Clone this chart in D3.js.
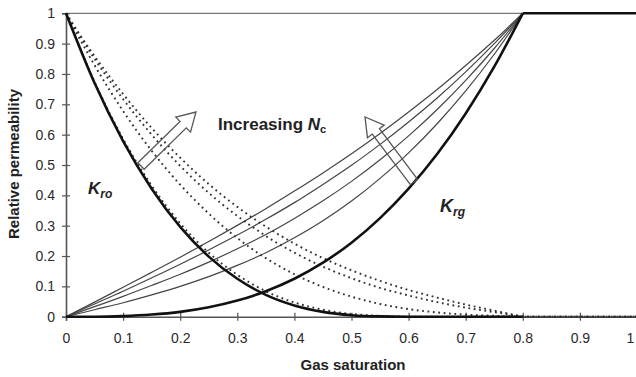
<!DOCTYPE html>
<html>
<head>
<meta charset="utf-8">
<script src="https://cdn.jsdelivr.net/npm/d3@7"></script>
<style>
  body { margin: 0; background: #fff; }
  text { font-family: "Liberation Sans", Arial, sans-serif; }
</style>
</head>
<body>
<div id="vizContainer"></div>
<script>
// gas saturation grid (curves end at 0.8, then flat to 1)
var sgGrid = [0, 0.05, 0.1, 0.15, 0.2, 0.25, 0.3, 0.35, 0.4, 0.45, 0.5, 0.55, 0.6, 0.65, 0.7, 0.75, 0.8];

// oil relative permeability, base curve (thick) and increasing Nc (dotted)
var kroBase = [1, 0.770, 0.579, 0.422, 0.296, 0.198, 0.125, 0.072, 0.037, 0.016, 0.005, 0.001, 0, 0, 0, 0, 0];
var kroNc1 = [1, 0.774, 0.586, 0.432, 0.308, 0.211, 0.138, 0.084, 0.047, 0.023, 0.009, 0.003, 0, 0, 0, 0, 0];
var kroNc2 = [1, 0.829, 0.678, 0.547, 0.435, 0.340, 0.259, 0.193, 0.140, 0.098, 0.066, 0.042, 0.025, 0.014, 0.007, 0.003, 0];
var kroNc3 = [1, 0.850, 0.717, 0.600, 0.497, 0.408, 0.332, 0.266, 0.211, 0.165, 0.127, 0.095, 0.070, 0.048, 0.030, 0.015, 0];
var kroNc4 = [1, 0.859, 0.734, 0.622, 0.524, 0.437, 0.362, 0.297, 0.241, 0.193, 0.153, 0.118, 0.088, 0.063, 0.040, 0.020, 0];

// gas relative permeability, base curve (thick) and increasing Nc (thin)
var krgBase = [0, 0.000, 0.002, 0.007, 0.016, 0.031, 0.053, 0.084, 0.125, 0.178, 0.244, 0.325, 0.422, 0.536, 0.670, 0.824, 1];
var krgNc1 = [0, 0.048, 0.097, 0.146, 0.196, 0.248, 0.301, 0.356, 0.414, 0.474, 0.537, 0.604, 0.675, 0.749, 0.828, 0.911, 1];
var krgNc2 = [0, 0.042, 0.084, 0.128, 0.173, 0.220, 0.269, 0.321, 0.376, 0.436, 0.499, 0.568, 0.642, 0.721, 0.807, 0.900, 1];
var krgNc3 = [0, 0.033, 0.067, 0.103, 0.140, 0.180, 0.224, 0.271, 0.324, 0.382, 0.446, 0.517, 0.596, 0.683, 0.779, 0.884, 1];
var krgNc4 = [0, 0.023, 0.046, 0.072, 0.100, 0.132, 0.169, 0.211, 0.260, 0.316, 0.381, 0.456, 0.540, 0.636, 0.744, 0.865, 1];

var xTicks = [0, 0.1, 0.2, 0.3, 0.4, 0.5, 0.6, 0.7, 0.8, 0.9, 1];
var yTicks = [0, 0.1, 0.2, 0.3, 0.4, 0.5, 0.6, 0.7, 0.8, 0.9, 1];

var width = 636, height = 377;

var svg = d3.select('#vizContainer').append('svg')
    .attr('width', width)
    .attr('height', height)
    .attr('viewBox', '0 0 ' + width + ' ' + height);

var x = d3.scaleLinear().domain([0, 1]).range([66, 637]);
var y = d3.scaleLinear().domain([0, 1]).range([316.7, 13.3]);

function fmt(d) {
    return (d === 0 || d === 1) ? String(d) : d.toFixed(1);
}

function toPoints(vals) {
    return vals.map(function(v, i) { return [sgGrid[i], v]; });
}

var curveLine = d3.line()
    .x(function(d) { return x(d[0]); })
    .y(function(d) { return y(d[1]); })
    .curve(d3.curveMonotoneX);

var straight = d3.line()
    .x(function(d) { return x(d[0]); })
    .y(function(d) { return y(d[1]); });

// top frame line
svg.append('line')
    .attr('x1', x(0)).attr('x2', width)
    .attr('y1', y(1)).attr('y2', y(1))
    .attr('stroke', '#777').attr('stroke-width', 1.3);

// axes
var yAxis = svg.append('g')
    .attr('transform', 'translate(' + x(0) + ',0)')
    .call(d3.axisLeft(y).tickValues(yTicks).tickFormat(fmt).tickSize(4).tickPadding(7));
yAxis.selectAll('.tick line').attr('x1', 4);

var xAxis = svg.append('g')
    .attr('transform', 'translate(0,' + y(0) + ')')
    .call(d3.axisBottom(x).tickValues(xTicks).tickFormat(fmt).tickSize(4).tickPadding(12));
xAxis.selectAll('.tick line').attr('y1', -4);
// last label sits at the right edge
xAxis.selectAll('.tick text').filter(function(d) { return d === 1; }).attr('dx', -7);

svg.selectAll('.domain').attr('stroke', '#555').attr('stroke-width', 1.6);
svg.selectAll('.tick line').attr('stroke', '#555').attr('stroke-width', 1.2);
svg.selectAll('.tick text')
    .attr('font-size', 14)
    .attr('font-family', '"Liberation Sans", Arial, sans-serif')
    .attr('fill', '#2a2a2a');

// thin gas curves
[krgNc1, krgNc2, krgNc3, krgNc4].forEach(function(vals) {
    svg.append('path')
        .attr('d', curveLine(toPoints(vals)))
        .attr('fill', 'none')
        .attr('stroke', '#444')
        .attr('stroke-width', 1.2);
});

// dotted oil curves
[kroNc1, kroNc2, kroNc3, kroNc4].forEach(function(vals) {
    svg.append('path')
        .attr('d', curveLine(toPoints(vals)) + straight([[0.8, 0], [1, 0]]).replace('M', 'L'))
        .attr('fill', 'none')
        .attr('stroke', '#333')
        .attr('stroke-width', 1.9)
        .attr('stroke-dasharray', '1.8,3.6');
});

// thick base curves
svg.append('path')
    .attr('d', curveLine(toPoints(kroBase)))
    .attr('fill', 'none')
    .attr('stroke', '#111')
    .attr('stroke-width', 2.6);

svg.append('path')
    .attr('d', curveLine(toPoints(krgBase)))
    .attr('fill', 'none')
    .attr('stroke', '#111')
    .attr('stroke-width', 2.6);

svg.append('path')
    .attr('d', straight([[0.8, 1], [1, 1]]))
    .attr('fill', 'none')
    .attr('stroke', '#111')
    .attr('stroke-width', 2.6);

// hollow arrow from (x0,y0) to tip (x1,y1)
function hollowArrow(x0, y0, x1, y1) {
    var dx = x1 - x0, dy = y1 - y0;
    var len = Math.sqrt(dx * dx + dy * dy);
    var ux = dx / len, uy = dy / len;
    var nx = -uy, ny = ux;
    var sw = 4.5, hw = 10.5, hl = 18;
    var bx = x1 - ux * hl, by = y1 - uy * hl;
    var pts = [
        [x0 + nx * sw, y0 + ny * sw],
        [bx + nx * sw, by + ny * sw],
        [bx + nx * hw, by + ny * hw],
        [x1, y1],
        [bx - nx * hw, by - ny * hw],
        [bx - nx * sw, by - ny * sw],
        [x0 - nx * sw, y0 - ny * sw]
    ];
    svg.append('path')
        .attr('d', 'M' + pts.map(function(p) { return p[0] + ',' + p[1]; }).join('L') + 'Z')
        .attr('fill', 'none')
        .attr('stroke', '#555')
        .attr('stroke-width', 1.3)
        .attr('stroke-linejoin', 'miter');
}

hollowArrow(141, 166, 196, 112);
hollowArrow(414, 182, 365, 117);

// labels
var kro = svg.append('text')
    .attr('x', 88).attr('y', 194)
    .attr('font-size', 17).attr('font-weight', 'bold').attr('font-style', 'italic')
    .attr('fill', '#222');
kro.append('tspan').text('K');
kro.append('tspan').attr('font-size', 12).attr('dy', 4).text('ro');

var krg = svg.append('text')
    .attr('x', 440).attr('y', 212)
    .attr('font-size', 18).attr('font-weight', 'bold').attr('font-style', 'italic')
    .attr('fill', '#222');
krg.append('tspan').text('K');
krg.append('tspan').attr('font-size', 12).attr('dy', 4).text('rg');

var inc = svg.append('text')
    .attr('x', 218).attr('y', 130)
    .attr('font-size', 17).attr('font-weight', 'bold')
    .attr('fill', '#222');
inc.append('tspan').text('Increasing ');
inc.append('tspan').attr('font-style', 'italic').text('N');
inc.append('tspan').attr('font-size', 11).attr('dy', 3).text('c');

svg.append('text')
    .attr('x', 353).attr('y', 370)
    .attr('text-anchor', 'middle')
    .attr('font-size', 15).attr('font-weight', 'bold')
    .attr('fill', '#222')
    .text('Gas saturation');

svg.append('text')
    .attr('transform', 'translate(19,164) rotate(-90)')
    .attr('text-anchor', 'middle')
    .attr('font-size', 15).attr('font-weight', 'bold')
    .attr('fill', '#222')
    .text('Relative permeability');
</script>
</body>
</html>
